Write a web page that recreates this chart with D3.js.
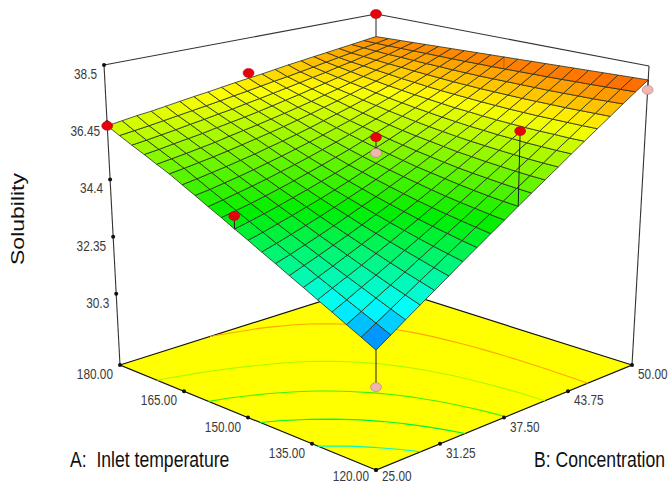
<!DOCTYPE html>
<html>
<head>
<meta charset="utf-8">
<style>
  body { margin: 0; background: #fff; }
  svg { display: block; }
  text { font-family: "Liberation Sans", Arial, sans-serif; fill: #3a3a3a; white-space: pre; }
  text.title { fill: #111; }
</style>
</head>
<body>
<div id="chart"></div>
<script src="https://cdn.jsdelivr.net/npm/d3@7"></script>
<script>
var tempTicks = [180, 165, 150, 135, 120];
var tempLabels = ["180.00", "165.00", "150.00", "135.00", "120.00"];
var concTicks = [25, 31.25, 37.5, 43.75, 50];
var concLabels = ["25.00", "31.25", "37.50", "43.75", "50.00"];
var solTicks = [38.5, 36.45, 34.4, 32.35, 30.3];
var solLabels = ["38.5", "36.45", "34.4", "32.35", "30.3"];

// design points
var pointTemp = [180, 180, 180, 150, 150, 150, 150, 120, 120, 120];
var pointConc = [50, 25, 37.5, 25, 37.5, 37.5, 50, 37.5, 25, 50];
var pointSol = [38.5, 36.32, 37.18, 34.44, 35.93, 35.36, 37.36, 37.33, 30.38, 37.64];
var pointShown = [1, 1, 1, 1, 1, 1, 0, 1, 1, 1];

var contourLevels = [32.55, 33.6, 34.6, 35.6, 36.75];

// rows: inlet temperature 120 to 180 (step 3), columns: concentration 25 to 50 (step 1.25)
var solubility = [
  [31.55,31.87,32.20,32.52,32.84,33.16,33.49,33.81,34.13,34.45,34.78,35.10,35.42,35.74,36.07,36.39,36.71,37.03,37.36,37.68,38.00],
  [31.80,32.09,32.39,32.69,32.99,33.29,33.60,33.90,34.21,34.51,34.82,35.13,35.44,35.75,36.07,36.38,36.70,37.02,37.34,37.66,37.98],
  [32.04,32.31,32.59,32.86,33.14,33.43,33.71,34.00,34.29,34.58,34.87,35.17,35.47,35.77,36.08,36.39,36.70,37.01,37.32,37.64,37.96],
  [32.29,32.53,32.79,33.04,33.30,33.57,33.83,34.10,34.38,34.65,34.93,35.22,35.51,35.80,36.09,36.39,36.70,37.00,37.31,37.62,37.94],
  [32.53,32.76,32.99,33.22,33.47,33.71,33.96,34.21,34.47,34.73,35.00,35.27,35.55,35.83,36.12,36.40,36.70,37.00,37.30,37.61,37.92],
  [32.78,32.98,33.19,33.41,33.63,33.86,34.09,34.33,34.57,34.82,35.08,35.33,35.60,35.87,36.14,36.42,36.71,37.00,37.29,37.59,37.90],
  [33.02,33.21,33.40,33.60,33.80,34.01,34.23,34.45,34.68,34.92,35.16,35.40,35.65,35.91,36.18,36.44,36.72,37.00,37.29,37.58,37.88],
  [33.27,33.43,33.61,33.79,33.98,34.18,34.38,34.58,34.80,35.02,35.24,35.48,35.72,35.96,36.21,36.47,36.74,37.01,37.29,37.57,37.86],
  [33.51,33.66,33.82,33.99,34.16,34.34,34.53,34.72,34.92,35.13,35.34,35.56,35.79,36.02,36.26,36.51,36.76,37.02,37.29,37.56,37.84],
  [33.76,33.89,34.04,34.19,34.35,34.51,34.68,34.86,35.05,35.24,35.44,35.65,35.86,36.08,36.31,36.54,36.79,37.03,37.29,37.55,37.82],
  [34.00,34.12,34.25,34.39,34.54,34.69,34.85,35.01,35.18,35.36,35.55,35.74,35.94,36.15,36.37,36.59,36.82,37.05,37.29,37.54,37.80],
  [34.25,34.36,34.47,34.60,34.73,34.87,35.02,35.17,35.33,35.49,35.67,35.85,36.03,36.23,36.43,36.64,36.85,37.07,37.30,37.54,37.78],
  [34.49,34.59,34.70,34.81,34.93,35.06,35.19,35.33,35.48,35.63,35.79,35.96,36.13,36.31,36.50,36.69,36.89,37.10,37.31,37.53,37.76],
  [34.74,34.82,34.92,35.02,35.13,35.25,35.37,35.50,35.63,35.77,35.92,36.07,36.23,36.40,36.57,36.75,36.94,37.13,37.33,37.53,37.74],
  [34.98,35.06,35.15,35.24,35.34,35.44,35.56,35.67,35.79,35.92,36.06,36.20,36.34,36.49,36.65,36.81,36.98,37.16,37.34,37.53,37.72],
  [35.23,35.30,35.38,35.46,35.55,35.65,35.75,35.85,35.96,36.08,36.20,36.33,36.46,36.60,36.74,36.88,37.04,37.20,37.36,37.53,37.70],
  [35.44,35.51,35.58,35.66,35.74,35.84,35.93,36.02,36.12,36.22,36.33,36.44,36.57,36.69,36.82,36.95,37.09,37.23,37.38,37.53,37.68],
  [35.66,35.72,35.80,35.87,35.94,36.03,36.11,36.19,36.28,36.38,36.48,36.58,36.69,36.80,36.91,37.03,37.15,37.27,37.39,37.53,37.66],
  [35.87,35.93,36.00,36.07,36.15,36.22,36.30,36.37,36.46,36.54,36.63,36.72,36.81,36.91,37.00,37.11,37.20,37.31,37.42,37.53,37.64],
  [36.09,36.15,36.21,36.28,36.35,36.42,36.49,36.56,36.64,36.71,36.79,36.87,36.94,37.02,37.10,37.19,37.27,37.35,37.45,37.53,37.62],
  [36.32,36.39,36.46,36.51,36.58,36.65,36.72,36.78,36.85,36.92,36.98,37.04,37.11,37.18,37.24,37.30,37.36,37.42,37.48,37.54,37.60]
];

var width = 668;
var height = 484;

// corners on screen: front, left, back, right
var floorQuad = [[376, 470], [120, 365], [376, 284], [632, 365]];
var topQuad = [[376, 131], [104, 65], [376, 14], [649, 66]];

var tempScale = d3.scaleLinear().domain([120, 180]).range([0, 1]);
var concScale = d3.scaleLinear().domain([25, 50]).range([0, 1]);
var solScale = d3.scaleLinear().domain([27.75, 38.5]).range([0, 1]);
var rowScale = d3.scaleLinear().domain([0, 20]).range([120, 180]);
var colScale = d3.scaleLinear().domain([0, 20]).range([25, 50]);

var colorScale = d3
  .scaleLinear()
  .domain([31.0, 32.4, 34.3, 36.7, 38.7])
  .range(["#0000ff", "#00ffff", "#00ee00", "#ffff00", "#ff0000"]);

// ticks on the floor edges are evenly spaced on screen
var tempEdgeX = d3.scaleLinear().domain([120, 180]).range([376, 120]);
var tempEdgeY = d3.scaleLinear().domain([120, 180]).range([470, 365]);
var concEdgeX = d3.scaleLinear().domain([25, 50]).range([376, 632]);
var concEdgeY = d3.scaleLinear().domain([25, 50]).range([470, 365]);

function quadMap(q) {
  var dx1 = q[1][0] - q[2][0],
    dx2 = q[3][0] - q[2][0],
    sx = q[0][0] - q[1][0] + q[2][0] - q[3][0];
  var dy1 = q[1][1] - q[2][1],
    dy2 = q[3][1] - q[2][1],
    sy = q[0][1] - q[1][1] + q[2][1] - q[3][1];
  var den = dx1 * dy2 - dx2 * dy1;
  var g = (sx * dy2 - dx2 * sy) / den;
  var h = (dx1 * sy - sx * dy1) / den;
  return function (u, v) {
    var w = g * u + h * v + 1;
    return [
      ((q[1][0] - q[0][0] + g * q[1][0]) * u + (q[3][0] - q[0][0] + h * q[3][0]) * v + q[0][0]) / w,
      ((q[1][1] - q[0][1] + g * q[1][1]) * u + (q[3][1] - q[0][1] + h * q[3][1]) * v + q[0][1]) / w
    ];
  };
}
var floorMap = quadMap(floorQuad);
var topMap = quadMap(topQuad);

function project(temp, conc, sol) {
  var f = floorMap(tempScale(temp), concScale(conc));
  var t = topMap(tempScale(temp), concScale(conc));
  var k = solScale(sol);
  return [f[0] + (t[0] - f[0]) * k, f[1] + (t[1] - f[1]) * k];
}

function surfaceAt(temp, conc) {
  return solubility[Math.round(rowScale.invert(temp))][Math.round(colScale.invert(conc))];
}

var svg = d3
  .select("#chart")
  .append("svg")
  .attr("width", width)
  .attr("height", height);

var line = d3.line();

// floor
svg
  .append("path")
  .attr("d", line(floorQuad) + "Z")
  .style("fill", "#ffff00")
  .style("stroke", "#111")
  .style("stroke-width", 1.2);

// floor contours
var flat = [];
solubility.forEach(function (row) {
  row.forEach(function (v) {
    flat.push(v);
  });
});
var contours = d3.contours().size([21, 21]).thresholds(contourLevels)(flat);
var contourLine = d3
  .line()
  .defined(function (d) {
    return d[0] > 0 && d[0] < 21 && d[1] > 0 && d[1] < 21;
  })
  .x(function (d) {
    return floorMap(tempScale(rowScale(d[1] - 0.5)), concScale(colScale(d[0] - 0.5)))[0];
  })
  .y(function (d) {
    return floorMap(tempScale(rowScale(d[1] - 0.5)), concScale(colScale(d[0] - 0.5)))[1];
  });
contours.forEach(function (c) {
  c.coordinates.forEach(function (poly) {
    poly.forEach(function (ring) {
      svg
        .append("path")
        .attr("d", contourLine(ring))
        .style("fill", "none")
        .style("stroke", colorScale(c.value >= 36 ? 37.4 : c.value + 0.3))
        .style("stroke-width", 1.1);
    });
  });
});

// back of the box
var boxLines = [
  [floorQuad[1], topQuad[1]],
  [topQuad[1], topQuad[2]],
  [topQuad[2], topQuad[3]],
  [topQuad[3], floorQuad[3]]
];
svg
  .selectAll(".box")
  .data(boxLines)
  .enter()
  .append("path")
  .attr("class", "box")
  .attr("d", function (d) {
    return line(d);
  })
  .style("stroke", "#333")
  .style("stroke-width", 1.1);

// surface cells
var cells = [];
d3.range(20).forEach(function (i) {
  d3.range(20).forEach(function (j) {
    cells.push([i, j]);
  });
});
function node(i, j) {
  return project(rowScale(i), colScale(j), solubility[i][j]);
}
svg
  .selectAll(".cell")
  .data(cells)
  .enter()
  .append("path")
  .attr("class", "cell")
  .attr("d", function (d) {
    var i = d[0],
      j = d[1];
    return line([node(i, j), node(i + 1, j), node(i + 1, j + 1), node(i, j + 1)]) + "Z";
  })
  .style("fill", function (d) {
    var i = d[0],
      j = d[1];
    return colorScale(
      d3.mean([solubility[i][j], solubility[i + 1][j], solubility[i + 1][j + 1], solubility[i][j + 1]])
    );
  })
  .style("stroke", "#26301a")
  .style("stroke-width", 0.8);

// tick dots
function dot(p) {
  svg.append("circle").attr("cx", p[0]).attr("cy", p[1]).attr("r", 2).style("fill", "#111");
}

// the reference is squeezed sideways, so all text gets the same x scale
function label(x, y, str, size, anchor, rotate, cls) {
  svg
    .append("text")
    .attr("class", cls || null)
    .attr("transform", "translate(" + x + "," + y + ") scale(0.815,1)" + (rotate ? " rotate(" + rotate + ")" : ""))
    .style("font-size", size + "px")
    .style("text-anchor", anchor)
    .text(str);
}

solTicks.forEach(function (t, i) {
  var p = project(180, 25, t);
  dot(p);
  label(p[0] - 7, p[1] + 14, solLabels[i], 14.5, "end");
});
tempTicks.forEach(function (t, i) {
  var x = tempEdgeX(t),
    y = tempEdgeY(t);
  dot([x, y]);
  label(x - 7, Math.min(y + 14, 480.5), tempLabels[i], 14.5, "end");
});
concTicks.forEach(function (t, i) {
  var x = concEdgeX(t),
    y = concEdgeY(t);
  dot([x, y]);
  label(x + 6, Math.min(y + 14, 480.5), concLabels[i], 14.5, "start");
});

label(70, 467, "A:  Inlet temperature", 21.6, "start", 0, "title");
label(534, 467, "B: Concentration", 21.6, "start", 0, "title");
label(24, 219, "Solubility", 23, "middle", -90, "title");

// stems and design points
var points = pointSol.map(function (sol, i) {
  return { temp: pointTemp[i], conc: pointConc[i], sol: sol, shown: pointShown[i] };
});
svg
  .selectAll(".stem")
  .data(points)
  .enter()
  .append("path")
  .attr("class", "stem")
  .attr("d", function (d) {
    return line([project(d.temp, d.conc, d.sol), project(d.temp, d.conc, surfaceAt(d.temp, d.conc))]);
  })
  .style("stroke", "#222")
  .style("stroke-width", 1)
  .style("opacity", function (d) {
    return d.shown ? 1 : 0.35;
  });
svg
  .selectAll(".point")
  .data(
    points.filter(function (d) {
      return d.shown;
    })
  )
  .enter()
  .append("ellipse")
  .attr("class", "point")
  .attr("cx", function (d) {
    return project(d.temp, d.conc, d.sol)[0];
  })
  .attr("cy", function (d) {
    return project(d.temp, d.conc, d.sol)[1];
  })
  .attr("rx", 5.5)
  .attr("ry", 4.5)
  .style("fill", function (d) {
    return d.sol >= surfaceAt(d.temp, d.conc) ? "#e8000c" : "#f2b5b0";
  })
  .style("stroke", function (d) {
    return d.sol >= surfaceAt(d.temp, d.conc) ? "#a81010" : "#a08080";
  })
  .style("stroke-width", 0.6);
</script>
</body>
</html>
